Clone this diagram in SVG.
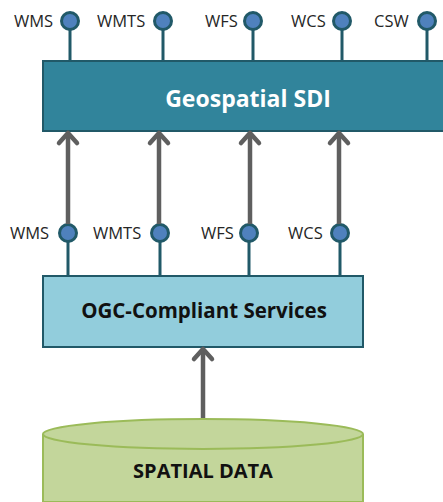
<svg xmlns="http://www.w3.org/2000/svg" width="443" height="502" viewBox="0 0 443 502">
<defs>
<style>
.lbl{font-family:"Open Sans","DejaVu Sans",sans-serif;font-size:16.5px;fill:#262626}
.stem{stroke:#215968;stroke-width:3;fill:none}
.dot{fill:#4f81bd;stroke:#215968;stroke-width:3}
.arr{stroke:#5f5f5f;stroke-width:4.5;fill:none}
.head{stroke:#5f5f5f;stroke-width:4.5;fill:none;stroke-linecap:round;stroke-linejoin:round}
.title{font-family:"Open Sans","DejaVu Sans",sans-serif;font-weight:bold;text-anchor:middle}
</style>
</defs>
<g id="sdi">
<rect x="43" y="61" width="420" height="70" fill="#31849b" stroke="#215968" stroke-width="2"/>
<text class="title" x="248" y="107" font-size="23" fill="#ffffff">Geospatial SDI</text>
</g>
<g id="sdi-ports">
<line class="stem" x1="70" y1="21" x2="70" y2="62"/>
<line class="stem" x1="163" y1="21" x2="163" y2="62"/>
<line class="stem" x1="253" y1="21" x2="253" y2="62"/>
<line class="stem" x1="342" y1="21" x2="342" y2="62"/>
<line class="stem" x1="427" y1="21" x2="427" y2="62"/>
<circle class="dot" cx="70" cy="21" r="8.5"/>
<circle class="dot" cx="163" cy="21" r="8.5"/>
<circle class="dot" cx="253" cy="21" r="8.5"/>
<circle class="dot" cx="342" cy="21" r="8.5"/>
<circle class="dot" cx="427" cy="21" r="8.5"/>
<text class="lbl" x="14" y="27">WMS</text>
<text class="lbl" x="97" y="27">WMTS</text>
<text class="lbl" x="205" y="27">WFS</text>
<text class="lbl" x="291" y="27">WCS</text>
<text class="lbl" x="374" y="27">CSW</text>
</g>
<g id="ogc">
<rect x="43" y="276" width="320" height="71" fill="#92cddc" stroke="#215968" stroke-width="2"/>
<text class="title" x="204" y="318" font-size="20.5" fill="#111111">OGC-Compliant Services</text>
</g>
<g id="ogc-ports">
<line class="stem" x1="68" y1="233" x2="68" y2="277"/>
<line class="stem" x1="160" y1="233" x2="160" y2="277"/>
<line class="stem" x1="249" y1="233" x2="249" y2="277"/>
<line class="stem" x1="340" y1="233" x2="340" y2="277"/>
<circle class="dot" cx="68" cy="233" r="8.5"/>
<circle class="dot" cx="160" cy="233" r="8.5"/>
<circle class="dot" cx="249" cy="233" r="8.5"/>
<circle class="dot" cx="340" cy="233" r="8.5"/>
<text class="lbl" x="10" y="239">WMS</text>
<text class="lbl" x="93" y="239">WMTS</text>
<text class="lbl" x="201" y="239">WFS</text>
<text class="lbl" x="288" y="239">WCS</text>
</g>
<g id="data">
<path d="M43,434 L43,502 L363,502 L363,434" fill="#c3d69b" stroke="#9bbb59" stroke-width="2"/>
<ellipse cx="203" cy="434" rx="160" ry="15" fill="#c3d69b" stroke="#9bbb59" stroke-width="2"/>
<text class="title" x="203" y="478" font-size="20" fill="#111111">SPATIAL DATA</text>
</g>
<g id="connectors">
<line class="arr" x1="68" y1="224" x2="68" y2="134"/>
<polyline class="head" points="59,143 68,133 77,143"/>
<line class="arr" x1="159" y1="224" x2="159" y2="134"/>
<polyline class="head" points="150,143 159,133 168,143"/>
<line class="arr" x1="250" y1="224" x2="250" y2="134"/>
<polyline class="head" points="241,143 250,133 259,143"/>
<line class="arr" x1="339" y1="224" x2="339" y2="134"/>
<polyline class="head" points="330,143 339,133 348,143"/>
<line class="arr" x1="203" y1="418" x2="203" y2="350"/>
<polyline class="head" points="194,359 203,349 212,359"/>
</g>
</svg>
